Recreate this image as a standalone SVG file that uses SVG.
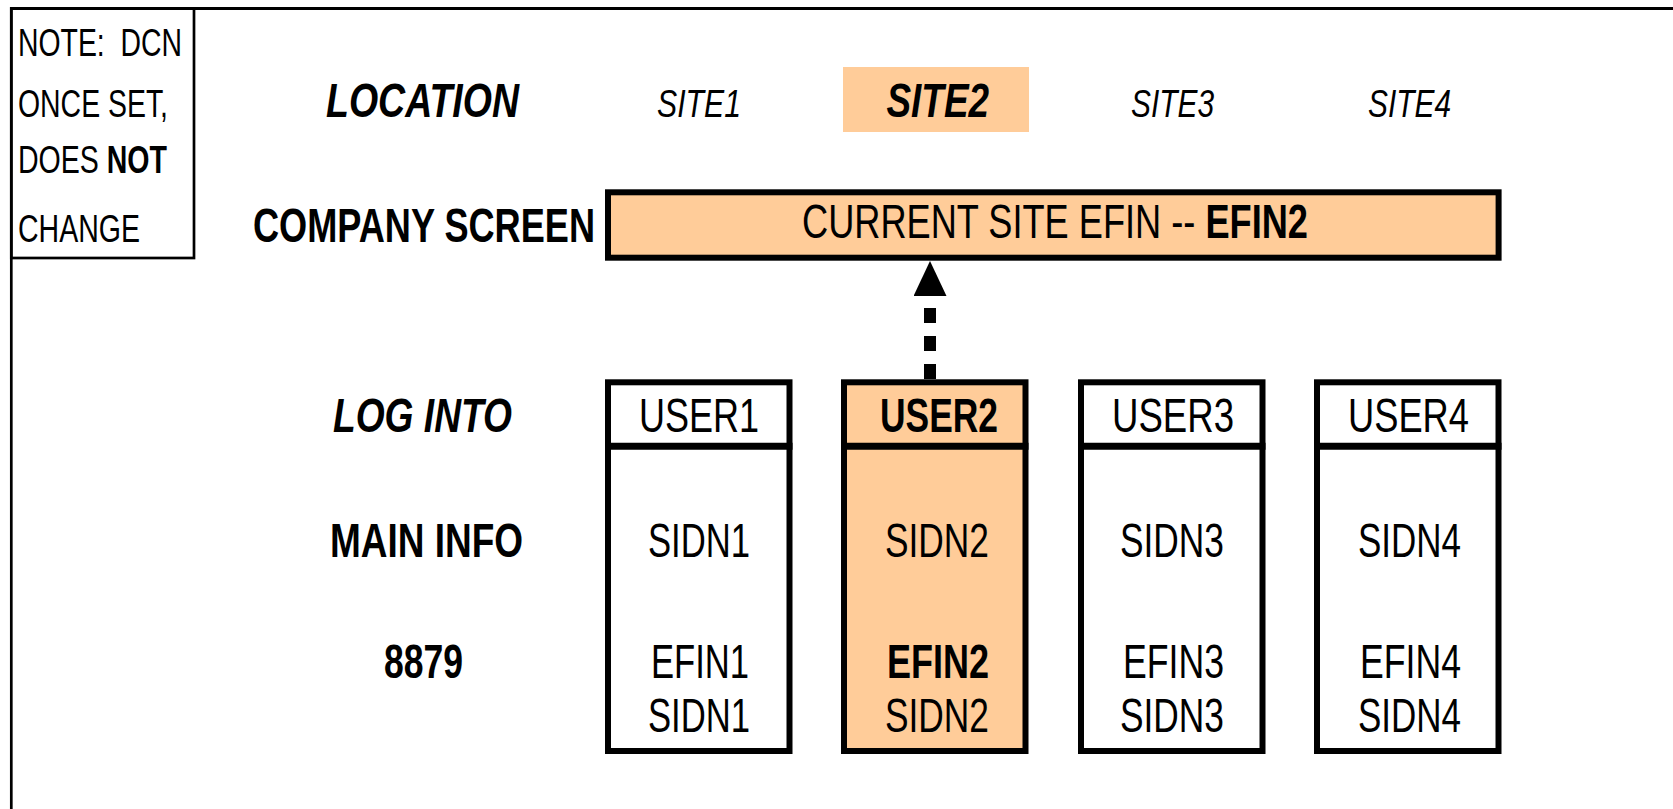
<svg xmlns="http://www.w3.org/2000/svg" width="1673" height="809" viewBox="0 0 1673 809">
<style>
text{font-family:"Liberation Sans",Arial,Helvetica,sans-serif;fill:#000}
.big{font-size:48px}
.small{font-size:38px}
.b{font-weight:bold}
.i{font-style:italic}
.box{fill:#fff;stroke:#000;stroke-width:6}
.hl{fill:#FFCC99}
.frame{stroke:#000;fill:none}
</style>
<defs>
<marker id="ah" viewBox="0 0 35 33" refX="0" refY="16.5" markerWidth="35" markerHeight="33" markerUnits="userSpaceOnUse" orient="auto">
<path d="M0,0 L35,16.5 L0,33 z" fill="#000"/>
</marker>
</defs>
<rect width="1673" height="809" fill="#fff"/>
<g id="frame">
<line class="frame" x1="10" y1="8.5" x2="1673" y2="8.5" stroke-width="3"/>
<line class="frame" x1="11.3" y1="7" x2="11.3" y2="809" stroke-width="2.7"/>
</g>
<g id="note">
<rect class="frame" x="11.3" y="8.5" width="182.7" height="249.5" stroke-width="2.7"/>
<text class="small" x="18" y="56" textLength="164" lengthAdjust="spacingAndGlyphs" xml:space="preserve">NOTE:  DCN</text>
<text class="small" x="18" y="117" textLength="150" lengthAdjust="spacingAndGlyphs">ONCE SET,</text>
<text class="small" x="18" y="173" textLength="149" lengthAdjust="spacingAndGlyphs">DOES <tspan class="b">NOT</tspan></text>
<text class="small" x="18" y="242" textLength="122" lengthAdjust="spacingAndGlyphs">CHANGE</text>
</g>
<g id="labels">
<text class="big b i" x="326" y="117.3" textLength="193" lengthAdjust="spacingAndGlyphs">LOCATION</text>
<text class="big b" x="253" y="241.7" textLength="342" lengthAdjust="spacingAndGlyphs">COMPANY SCREEN</text>
<text class="big b i" x="333" y="431.7" textLength="179" lengthAdjust="spacingAndGlyphs">LOG INTO</text>
<text class="big b" x="330" y="557.3" textLength="193" lengthAdjust="spacingAndGlyphs">MAIN INFO</text>
<text class="big b" x="384" y="678.3" textLength="79" lengthAdjust="spacingAndGlyphs">8879</text>
</g>
<g id="site1"><text class="small i" x="657" y="117.3" textLength="84" lengthAdjust="spacingAndGlyphs">SITE1</text></g>
<g id="site2">
<rect class="hl" x="843" y="67" width="186" height="65"/>
<text class="big b i" x="886.5" y="117.3" textLength="102.5" lengthAdjust="spacingAndGlyphs">SITE2</text>
</g>
<g id="site3"><text class="small i" x="1131" y="117.3" textLength="83" lengthAdjust="spacingAndGlyphs">SITE3</text></g>
<g id="site4"><text class="small i" x="1368" y="117.3" textLength="83" lengthAdjust="spacingAndGlyphs">SITE4</text></g>
<g id="company-screen">
<rect class="box hl" x="608" y="192.3" width="890.6" height="65.4"/>
<text class="big" x="802" y="238.3" textLength="506" lengthAdjust="spacingAndGlyphs">CURRENT SITE EFIN -- <tspan class="b">EFIN2</tspan></text>
</g>
<g id="user1">
<rect class="box" x="608" y="382.3" width="181.5" height="368.7"/>
<line x1="605" y1="446.3" x2="792.5" y2="446.3" stroke="#000" stroke-width="7"/>
<text class="big" x="639" y="431.7" textLength="120" lengthAdjust="spacingAndGlyphs">USER1</text>
<text class="big" x="648" y="557.3" textLength="102" lengthAdjust="spacingAndGlyphs">SIDN1</text>
<text class="big" x="651" y="678.3" textLength="98" lengthAdjust="spacingAndGlyphs">EFIN1</text>
<text class="big" x="648" y="731.7" textLength="102" lengthAdjust="spacingAndGlyphs">SIDN1</text>
</g>
<g id="user2">
<rect class="box hl" x="844" y="382.3" width="181.5" height="368.7"/>
<line x1="841" y1="446.3" x2="1028.5" y2="446.3" stroke="#000" stroke-width="7"/>
<text class="big b" x="880" y="431.7" textLength="118" lengthAdjust="spacingAndGlyphs">USER2</text>
<text class="big" x="885" y="557.3" textLength="104" lengthAdjust="spacingAndGlyphs">SIDN2</text>
<text class="big b" x="887" y="678.3" textLength="102" lengthAdjust="spacingAndGlyphs">EFIN2</text>
<text class="big" x="885" y="731.7" textLength="104" lengthAdjust="spacingAndGlyphs">SIDN2</text>
</g>
<g id="user3">
<rect class="box" x="1081" y="382.3" width="181.5" height="368.7"/>
<line x1="1078" y1="446.3" x2="1265.5" y2="446.3" stroke="#000" stroke-width="7"/>
<text class="big" x="1112" y="431.7" textLength="122" lengthAdjust="spacingAndGlyphs">USER3</text>
<text class="big" x="1120" y="557.3" textLength="104" lengthAdjust="spacingAndGlyphs">SIDN3</text>
<text class="big" x="1123" y="678.3" textLength="101" lengthAdjust="spacingAndGlyphs">EFIN3</text>
<text class="big" x="1120" y="731.7" textLength="104" lengthAdjust="spacingAndGlyphs">SIDN3</text>
</g>
<g id="user4">
<rect class="box" x="1317" y="382.3" width="181.5" height="368.7"/>
<line x1="1314" y1="446.3" x2="1501.5" y2="446.3" stroke="#000" stroke-width="7"/>
<text class="big" x="1348" y="431.7" textLength="121" lengthAdjust="spacingAndGlyphs">USER4</text>
<text class="big" x="1358" y="557.3" textLength="103" lengthAdjust="spacingAndGlyphs">SIDN4</text>
<text class="big" x="1360" y="678.3" textLength="101" lengthAdjust="spacingAndGlyphs">EFIN4</text>
<text class="big" x="1358" y="731.7" textLength="103" lengthAdjust="spacingAndGlyphs">SIDN4</text>
</g>
<g id="connectors">
<line x1="930" y1="379" x2="930" y2="296" stroke="#000" stroke-width="12" stroke-dasharray="15 13" marker-end="url(#ah)"/>
</g>
</svg>
